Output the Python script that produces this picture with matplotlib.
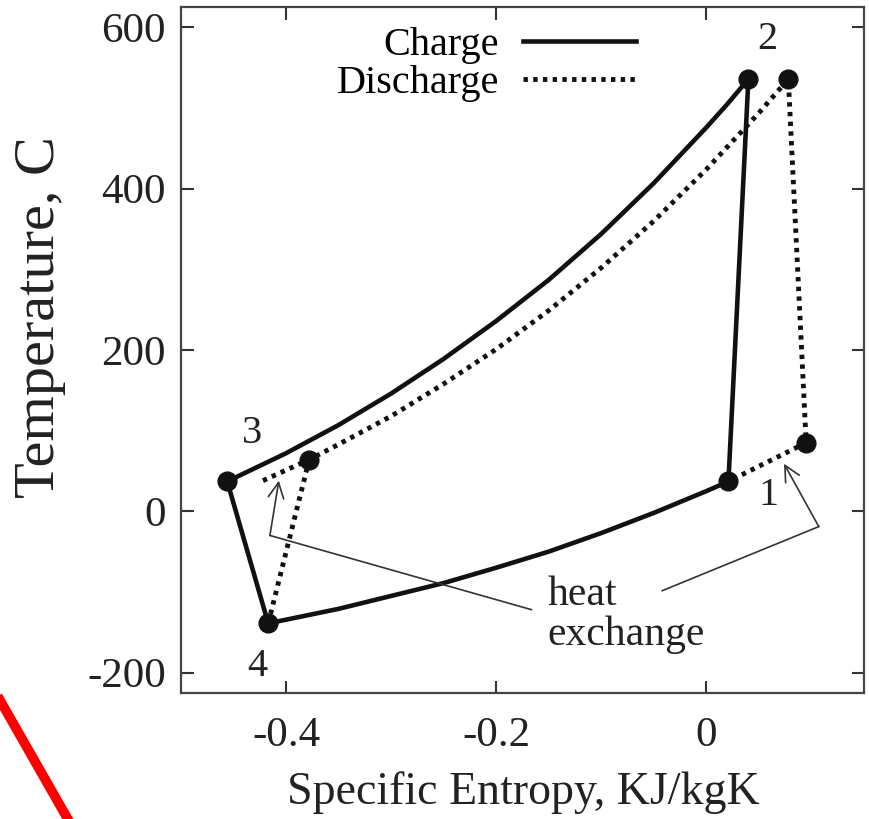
import matplotlib
matplotlib.use('Agg')
import matplotlib.pyplot as plt
from matplotlib.lines import Line2D

plt.rcParams['font.family'] = ['Liberation Serif', 'DejaVu Serif']
plt.rcParams['axes.unicode_minus'] = False

# ------- datos (s en KJ/kgK, T en C) -------

# ciclo de carga: 1 -> 2 -> (isobara alta) -> 3 -> 4 -> (isobara baja) -> 1
carga_s = [0.021, 0.040, 0.02, 0.0, -0.05, -0.1, -0.15, -0.2, -0.25, -0.3, -0.35, -0.4, -0.456,
           -0.417, -0.35, -0.3, -0.25, -0.2, -0.15, -0.1, -0.05, 0.0, 0.021]
carga_T = [37, 536, 505, 476, 407, 344, 287, 236, 189, 146, 107, 72, 37,
           -139, -121, -105, -89, -70, -50, -27, -2, 25, 37]

# ciclo de descarga: intercambio -> 3 -> (isobara) -> 2 -> 1 -> intercambio
descarga_s = [-0.422, -0.378, -0.35, -0.3, -0.25, -0.2, -0.15, -0.1, -0.05, 0.0, 0.05, 0.078,
              0.095, 0.021]
descarga_T = [38, 64, 83, 118, 158, 201, 249, 302, 360, 424, 494, 536,
              85, 37]
# compresion 4 -> 3 de la descarga
comp_s = [-0.417, -0.378]
comp_T = [-139, 64]

# puntos de estado
puntos_s = [0.021, 0.040, -0.456, -0.417, 0.078, 0.095, -0.378]
puntos_T = [37, 536, 37, -139, 536, 85, 64]

etiquetas = ['1', '2', '3', '4']
etiq_s = [0.059, 0.058, -0.432, -0.427]
etiq_T = [19, 585, 96, -192]

# ------- graficacion -------

fig = plt.figure(figsize=(8.69, 8.19), dpi=100)
ax = fig.add_axes([0.2083, 0.1542, 0.7859, 0.8369])

ax.plot(carga_s, carga_T, color='#111111', lw=3.3, solid_joinstyle='round', label='Charge')
ax.plot(descarga_s, descarga_T, color='#111111', lw=3.5, linestyle=(0, (0.9, 1.1)),
        dash_capstyle='butt', label='Discharge')
ax.plot(comp_s, comp_T, color='#111111', lw=3.5, linestyle=(0, (0.9, 1.1)), dash_capstyle='butt')
ax.plot(puntos_s, puntos_T, 'o', color='#111111', ms=13.5, zorder=5)

for e, s, T in zip(etiquetas, etiq_s, etiq_T):
    ax.text(s, T, e, fontsize=29, ha='center', va='center', color='#222222')

# flechas de intercambio de calor
ax.plot([-0.1665, -0.4154], [-122, -30], color='#333333', lw=1.2)
ax.annotate('', xy=(-0.4069, 38), xytext=(-0.4154, -30),
            arrowprops=dict(arrowstyle='->', lw=1.2, color='#333333', mutation_scale=28,
                            shrinkA=0, shrinkB=0))
ax.plot([-0.042, 0.107], [-98.5, -19], color='#333333', lw=1.2)
ax.annotate('', xy=(0.0739, 59), xytext=(0.107, -19),
            arrowprops=dict(arrowstyle='->', lw=1.2, color='#333333', mutation_scale=28,
                            shrinkA=0, shrinkB=0))
ax.text(-0.151, -128, 'heat\nexchange', fontsize=30, ha='left', va='center',
        linespacing=1.05, color='#222222')

ax.set_xlim(-0.5, 0.15)
ax.set_ylim(-225, 625)
ax.set_xticks([-0.4, -0.2, 0])
ax.set_xticklabels(['-0.4', '-0.2', '0'])
ax.set_yticks([-200, 0, 200, 400, 600])

ax.tick_params(direction='in', length=9, width=1.5, top=True, right=True,
               labelsize=31, colors='#333333', labelcolor='#222222')
ax.tick_params(axis='x', pad=17)
ax.tick_params(axis='y', pad=11)
for sp in ax.spines.values():
    sp.set_linewidth(1.6)
    sp.set_color('#444444')

ax.set_xlabel('Specific Entropy, KJ/kgK', fontsize=33, color='#222222')
ax.set_ylabel('Temperature, C', fontsize=42, color='#222222')
ax.xaxis.set_label_coords(0.5007, -0.146)
ax.xaxis.label.set_va('center')
ax.yaxis.set_label_coords(-0.206, 0.548)
ax.yaxis.label.set(va='center', ha='center', rotation_mode='default')

ax.legend(loc='upper right', bbox_to_anchor=(0.666, 0.972), frameon=False, fontsize=29,
          markerfirst=False, handlelength=2.8, handletextpad=0.6, labelspacing=0.02,
          borderpad=0, borderaxespad=0)

# trazo rojo de la esquina
fig.add_artist(Line2D([0.0, 0.078], [0.145, 0.0], color='red', lw=7))

fig.savefig('out.png', dpi=100)
